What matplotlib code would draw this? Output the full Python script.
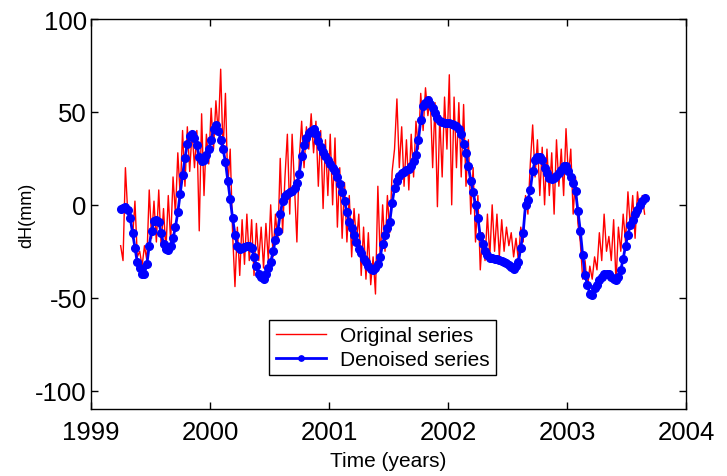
# Water height change at the gauge: raw weekly series vs the wavelet denoised one.
import numpy as np
import matplotlib
matplotlib.use("Agg")
import matplotlib.pyplot as plt

plt.rcParams["font.family"] = ["Liberation Sans", "DejaVu Sans"]
plt.rcParams["axes.unicode_minus"] = False

T_START = 1999.25
T_STEP = 0.02

original = [
    -22, -30, 20, -5, -3, -18, 2, -28, -25, -33, -22, -30, 8, -18, 2, -20, 8, -22, -2, -25,
    5, -20, 15, -5, 28, 5, 40, 10, 42, 18, 40, 20, 40, -14, 49, 5, 38, 22, 52, 30,
    56, 38, 73, 28, 60, 10, 30, -15, -44, -12, -38, -8, -32, -5, -30, -8, -38, -10, -30, -12,
    -34, -10, -30, 0, -28, -5, -20, 25, -15, 15, 38, -5, 38, 10, -20, 25, 45, 20, 42, 30,
    49, 28, 45, 10, 40, -2, 35, 5, 38, 0, 36, -12, 20, -18, 12, -20, 5, -28, -2, -20,
    -5, -38, -12, -40, -15, -43, -28, -48, 10, -30, 0, -25, 5, -15, 18, 30, 57, 20, 42, 10,
    35, 8, 38, 15, 45, 30, 60, 40, 63, 48, 58, 20, 55, -1, 48, 15, 58, 30, 70, 0,
    58, 20, 55, 15, 54, 10, 35, -5, 20, -20, 5, -35, -15, -30, -5, -28, 0, -25, -5, -28,
    -8, -25, -12, -22, -15, -28, -18, -30, -12, -20, 5, -5, 22, 43, 15, 35, 5, 31, 0, 30,
    5, 28, -5, 35, 10, 30, 5, 41, 15, 30, -5, 15, -10, -20, -40, -30, -45, -33, -40, -28,
    -35, -15, -30, -5, -25, -17, -30, -8, -42, -12, -25, -5, -20, 7, -12, 5, -18, 7, -5, 5,
    -5,
]

denoised = [
    -2, -1.5, -1, -3, -7, -15, -23, -31, -34, -37, -37, -32, -22, -14, -8.5, -8, -9, -15, -21, -24,
    -24.5, -22, -18, -12, -4, 6, 16, 25, 33, 37, 38, 36, 32, 26, 23.5, 24, 27, 30, 35, 41,
    43, 40, 35, 30, 23, 13, 3, -7, -16, -22, -24, -23, -22.5, -22, -22, -23, -28, -33, -37, -39,
    -40, -37, -34, -31, -25, -19, -14, -5, 2, 4.5, 6, 7, 7.4, 9, 12, 16.5, 26.5, 32, 36, 38.5,
    40, 41, 38, 34.5, 31, 28.5, 26.5, 24, 22, 20, 18.3, 15, 11, 7, 2, -4, -9, -12.5, -16, -20,
    -23.5, -26, -29, -31, -33, -34.5, -35, -34, -32, -28, -21, -16, -12.5, -9, 1, 9, 13, 15.5, 17, 17.8,
    18.6, 19.5, 21, 23.5, 27, 34.7, 45.5, 53, 55, 56.4, 54.5, 52, 49.5, 47, 45, 44.5, 44.3, 44, 44, 43.5,
    43, 42.5, 41, 38, 33, 28, 21, 13, 7, 0, -7, -17, -21, -25, -27, -28.5, -28.7, -29, -29, -29.5,
    -30, -30.7, -31.5, -32.5, -33.5, -34.7, -33, -31, -23, -15, 0, 2.5, 8, 18, 24, 26, 26, 24, 20, 17,
    14.5, 14, 14.5, 15.5, 17, 19, 21, 21, 18, 15, 12, 7.4, -3.4, -14, -27, -38, -43, -48, -48.5, -45,
    -43, -40.6, -39, -37, -37, -37, -39, -40, -40.5, -39, -35, -29, -22, -16, -11, -8, -5, -3, 0, 2,
    3.8,
]

t_orig = T_START + T_STEP * np.arange(len(original))
t_den = T_START + T_STEP * np.arange(len(denoised))

fig = plt.figure(figsize=(7.27, 4.77), dpi=100)
ax = fig.add_axes([0.125, 0.140, 0.819, 0.818])

ax.plot(t_orig, original, color="#ff0000", lw=1.0, label="Original series")
ax.plot(t_den, denoised, color="#0000ff", lw=2.0, marker="o", ms=5.5,
        label="Denoised series")

ax.set_xlim(1999, 2004)
ax.set_ylim(-110, 100)
ax.set_xticks([1999, 2000, 2001, 2002, 2003, 2004])
ax.set_yticks([-100, -50, 0, 50, 100])
ax.tick_params(direction="in", top=True, right=True, length=5, width=1, labelsize=18.5)
ax.tick_params(axis="x", pad=8)
ax.tick_params(axis="y", pad=3)
for s in ax.spines.values():
    s.set_linewidth(1.0)

ax.set_xlabel("Time (years)", fontsize=15, labelpad=5)
ax.set_ylabel("dH(mm)", fontsize=13)
ax.yaxis.set_label_coords(-0.094, 0.5)

leg = ax.legend(loc="center", bbox_to_anchor=(0.49, 0.158), fontsize=15,
                fancybox=False, framealpha=1, edgecolor="black", markerscale=0.7,
                handlelength=2.4, handletextpad=0.7, borderpad=0.3, labelspacing=0.25)
leg.get_frame().set_linewidth(1.0)

fig.savefig("out.png", dpi=100)
